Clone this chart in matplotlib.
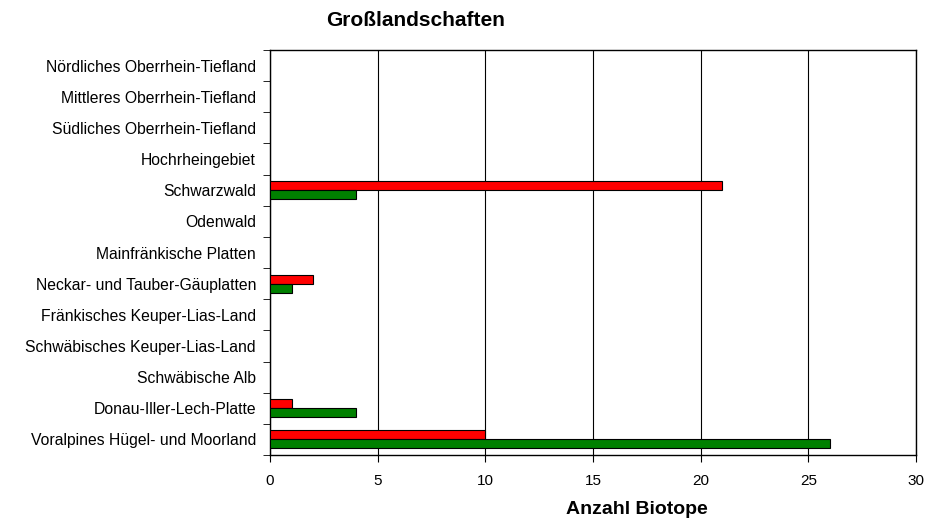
import matplotlib.pyplot as plt
import numpy as np

plt.rcParams['font.family'] = ['Liberation Sans', 'DejaVu Sans']

regionen = ['Nördliches Oberrhein-Tiefland', 'Mittleres Oberrhein-Tiefland',
            'Südliches Oberrhein-Tiefland', 'Hochrheingebiet', 'Schwarzwald',
            'Odenwald', 'Mainfränkische Platten', 'Neckar- und Tauber-Gäuplatten',
            'Fränkisches Keuper-Lias-Land', 'Schwäbisches Keuper-Lias-Land',
            'Schwäbische Alb', 'Donau-Iller-Lech-Platte', 'Voralpines Hügel- und Moorland']
rot = [0, 0, 0, 0, 21, 0, 0, 2, 0, 0, 0, 1, 10]
gruen = [0, 0, 0, 0, 4, 0, 0, 1, 0, 0, 0, 4, 26]

fig = plt.figure(figsize=(9.41, 5.2), dpi=100)
ax = fig.add_axes([0.2869, 0.125, 0.6865, 0.7788])

y = np.arange(len(regionen))[::-1]
h = 0.29
# nur Balken > 0 zeichnen
for yi, r, g in zip(y, rot, gruen):
    if r > 0:
        ax.barh(yi + h / 2, r, height=h, color='#ff0000', edgecolor='black', linewidth=0.8, zorder=3)
    if g > 0:
        ax.barh(yi - h / 2, g, height=h, color='#008000', edgecolor='black', linewidth=0.8, zorder=3)

ax.set_xlim(0, 30)
ax.set_ylim(-0.5, len(regionen) - 0.5)
ax.set_xticks(range(0, 31, 5))
ax.set_yticks(y)
ax.set_yticklabels(regionen)
ax.set_yticks(np.arange(-0.5, len(regionen), 1), minor=True)
ax.tick_params(axis='y', which='major', length=0, pad=10, labelsize=11.3)
ax.tick_params(axis='y', which='minor', length=5, direction='out')
ax.tick_params(axis='x', length=5, direction='out', pad=9, labelsize=11)
ax.grid(axis='x', color='black', linewidth=0.8, zorder=0)
for s in ax.spines.values():
    s.set_linewidth(1.0)

fig.text(416 / 941, 1 - 20 / 520, 'Großlandschaften', ha='center', va='center', fontsize=15, fontweight='bold')
fig.text(637 / 941, 1 - 509 / 520, 'Anzahl Biotope', ha='center', va='center', fontsize=14, fontweight='bold')

fig.savefig('out.png', dpi=100)
